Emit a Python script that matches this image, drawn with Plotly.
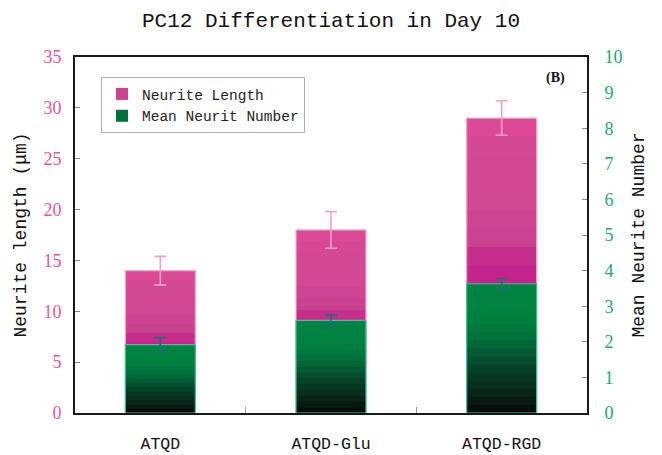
import plotly.graph_objects as go
from plotly.colors import sample_colorscale

# ---- data ----
groups = ["ATQD", "ATQD-Glu", "ATQD-RGD"]
neurite_length = [14.0, 18.0, 29.0]          # µm (left axis)
neurite_length_err = [1.4, 1.8, 1.7]
neurite_number = [1.92, 2.6, 3.63]           # mean count (right axis)
neurite_number_err = [0.2, 0.15, 0.15]

# ---- styling ----
MONO = "Liberation Mono"
SERIF = "Liberation Serif"
PINK_TXT = "#e3579d"
GREEN_TXT = "#23a67a"
BAR_W = 0.41
N_BANDS = 16

pink_scale = [[0.0, "#a8127c"], [0.42, "#c01d88"], [0.52, "#c62a8c"],
              [0.6, "#c9438f"], [0.72, "#d14893"], [0.93, "#d54893"],
              [1.0, "#e24b9b"]]
green_scale = [[0.0, "#030a05"], [0.15, "#0a2416"], [0.35, "#06432a"],
               [0.55, "#036c39"], [0.72, "#00803f"], [1.0, "#008542"]]

fig = go.Figure()


def add_gradient_bars(values, scale, yaxis, legend_name, legend_band):
    """Layer bars that start progressively higher, each in a lighter shade,
    so every bar reads as a vertical gradient without seams."""
    cols = sample_colorscale(scale, [(k + 0.5) / N_BANDS for k in range(N_BANDS)])
    for k in range(N_BANDS):
        fig.add_trace(go.Bar(
            x=groups,
            y=[v * (1 - k / N_BANDS) for v in values],
            base=[v * k / N_BANDS for v in values],
            width=BAR_W,
            marker=dict(color=cols[k], line=dict(width=0)),
            yaxis=yaxis,
            name=legend_name,
            showlegend=(k == legend_band),
            hoverinfo="skip",
        ))


def add_outline(values, color, yaxis):
    fig.add_trace(go.Bar(
        x=groups, y=values, width=BAR_W, yaxis=yaxis,
        marker=dict(color="rgba(0,0,0,0)", line=dict(color=color, width=1.2)),
        showlegend=False, hoverinfo="skip",
    ))


def add_errors(values, errs, color, yaxis):
    fig.add_trace(go.Scatter(
        x=groups, y=values, yaxis=yaxis, mode="markers",
        marker=dict(size=1, color="rgba(0,0,0,0)"),
        error_y=dict(type="data", array=errs, color=color, thickness=1.6, width=6),
        showlegend=False, hoverinfo="skip",
    ))


# Neurite length (left axis)
add_gradient_bars(neurite_length, pink_scale, "y", "Neurite Length", 9)
add_outline(neurite_length, "#f5a9cf", "y")
add_errors(neurite_length, neurite_length_err, "#f49fc7", "y")

# Mean neurite number (right axis)
add_gradient_bars(neurite_number, green_scale, "y2", "Mean Neurit Number", 9)
add_outline(neurite_number, "#3cc79c", "y2")
add_errors(neurite_number, neurite_number_err, "#1d6e7d", "y2")

fig.update_layout(
    width=662, height=455,
    margin=dict(l=75, r=75, t=57, b=42),
    paper_bgcolor="white", plot_bgcolor="white",
    barmode="overlay",
    title=dict(text="PC12 Differentiation in Day 10", x=0.5, xanchor="center",
               y=1 - 20 / 455, yanchor="middle", yref="container",
               font=dict(family=MONO, size=21, color="#111")),
    xaxis=dict(
        type="category", range=[-0.5, 2.5], automargin=False,
        showline=True, linecolor="#1a1a1a", linewidth=2, mirror=True,
        ticks="inside", tickson="boundaries", ticklen=6, tickcolor="#999",
        tickfont=dict(family=MONO, size=16.5, color="#111"),
        ticklabelstandoff=14, showgrid=False, zeroline=False,
    ),
    yaxis=dict(
        range=[0, 35], dtick=5, automargin=False,
        showline=True, linecolor="#1a1a1a", linewidth=2,
        ticks="inside", ticklen=5, tickcolor="#888",
        tickfont=dict(family=SERIF, size=18, color=PINK_TXT),
        ticklabelstandoff=8, showgrid=False, zeroline=False,
        title=dict(text="Neurite length (μm)", standoff=12,
                   font=dict(family=MONO, size=18, color="#111")),
    ),
    yaxis2=dict(
        range=[0, 10], dtick=1, overlaying="y", side="right", automargin=False,
        showline=True, linecolor="#1a1a1a", linewidth=2,
        ticks="inside", ticklen=5, tickcolor="#888",
        tickfont=dict(family=SERIF, size=18, color=GREEN_TXT),
        ticklabelstandoff=12, showgrid=False, zeroline=False,
        title=dict(text="Mean Neurite Number", standoff=10,
                   font=dict(family=MONO, size=18, color="#111")),
    ),
    legend=dict(
        x=(101 - 75) / 512, y=(413 - 77) / 356, xanchor="left", yanchor="top",
        bgcolor="white", bordercolor="#b0b0b0", borderwidth=1,
        font=dict(family=MONO, size=14.5, color="#222"),
        itemwidth=30, tracegroupgap=0,
    ),
    annotations=[dict(
        text="<b>(B)</b>", xref="paper", yref="paper",
        x=(555 - 75) / 512, y=(413 - 78) / 356, xanchor="center", yanchor="middle",
        showarrow=False, font=dict(family=SERIF, size=14, color="#111"),
    )],
)

fig.write_html("out.html")
